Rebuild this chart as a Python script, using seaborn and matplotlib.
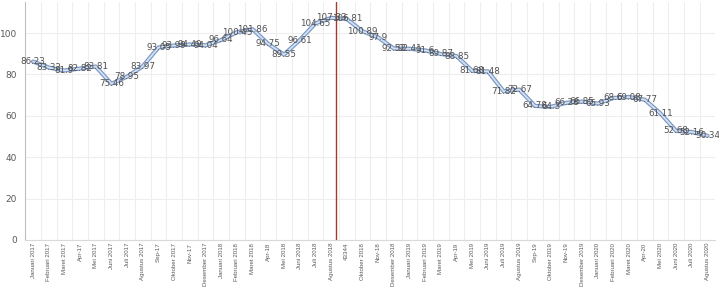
import matplotlib
matplotlib.use("Agg")
import matplotlib.pyplot as plt
import seaborn as sns
import pandas as pd

# months (labels exactly as shown on the axis)
months = ["Januari 2017", "Februari 2017", "Maret 2017", "Apr-17", "Mei 2017", "Juni 2017",
          "Juli 2017", "Agustus 2017", "Sep-17", "Oktober 2017", "Nov-17", "Desember 2017",
          "Januari 2018", "Februari 2018", "Maret 2018", "Apr-18", "Mei 2018", "Juni 2018",
          "Juli 2018", "Agustus 2018", "43344", "Oktober 2018", "Nov-18", "Desember 2018",
          "Januari 2019", "Februari 2019", "Maret 2019", "Apr-19", "Mei 2019", "Juni 2019",
          "Juli 2019", "Agustus 2019", "Sep-19", "Oktober 2019", "Nov-19", "Desember 2019",
          "Januari 2020", "Februari 2020", "Maret 2020", "Apr-20", "Mei 2020", "Juni 2020",
          "Juli 2020", "Agustus 2020"]

values = [86.23, 83.32, 81.9, 82.82, 83.81, 75.46, 78.95, 83.97, 93.05, 93.99, 94.49, 94.04,
          96.64, 100.45, 101.86, 94.75, 89.55, 96.61, 104.65, 107.33, 106.81, 100.89, 97.9, 92.52,
          92.41, 91.6, 89.87, 88.85, 81.68, 81.48, 71.82, 72.67, 64.78, 64.3, 66.28, 66.85,
          65.93, 68.6, 69.08, 67.77, 61.11, 52.68, 52.16, 50.34]

marker_month = "Agustus 2018"

df = pd.DataFrame({"pos": range(len(months)), "month": months, "value": values})

sns.set_style("white")
fig = plt.figure(figsize=(7.19, 2.88), dpi=100)
ax = fig.add_axes([0.035, 0.167, 0.96, 0.826])

# Excel-like line: blue-grey outline with light fill
sns.lineplot(data=df, x="pos", y="value", ax=ax, color="#7a98c4", linewidth=3.0)
sns.lineplot(data=df, x="pos", y="value", ax=ax, color="#d3e1f3", linewidth=1.3)

for p, v in zip(df["pos"], df["value"]):
    ax.text(p, v, f"{v:g}", ha="center", va="center", fontsize=6.3, color="#505050")

ax.axvline(months.index(marker_month) + 0.3, color="#a33a2c", linewidth=1)

ax.set_xlim(-0.5, len(months) - 0.5)
ax.set_ylim(0, 115)
ax.set_yticks(range(0, 101, 20))
ax.set_xticks(df["pos"])
ax.set_xticklabels(months, rotation=90, fontsize=4.4, color="#595959",
                   family=["Liberation Sans Narrow", "Liberation Sans", "DejaVu Sans"])
ax.tick_params(axis="y", labelsize=6.5, labelcolor="#595959", length=0, pad=6)
ax.tick_params(axis="x", length=0, pad=2)

# gridlines: horizontal at ticks, vertical between categories
for y in range(20, 101, 20):
    ax.axhline(y, color="#eeeeee", linewidth=0.8, zorder=0)
for x in range(len(months) + 1):
    ax.axvline(x - 0.5, color="#eeeeee", linewidth=0.8, zorder=0)

ax.set_xlabel("")
ax.set_ylabel("")
for s in ["top", "right"]:
    ax.spines[s].set_visible(False)
ax.spines["left"].set_color("#bfbfbf")
ax.spines["bottom"].set_color("#d9d9d9")

fig.savefig("out.png", dpi=100)
